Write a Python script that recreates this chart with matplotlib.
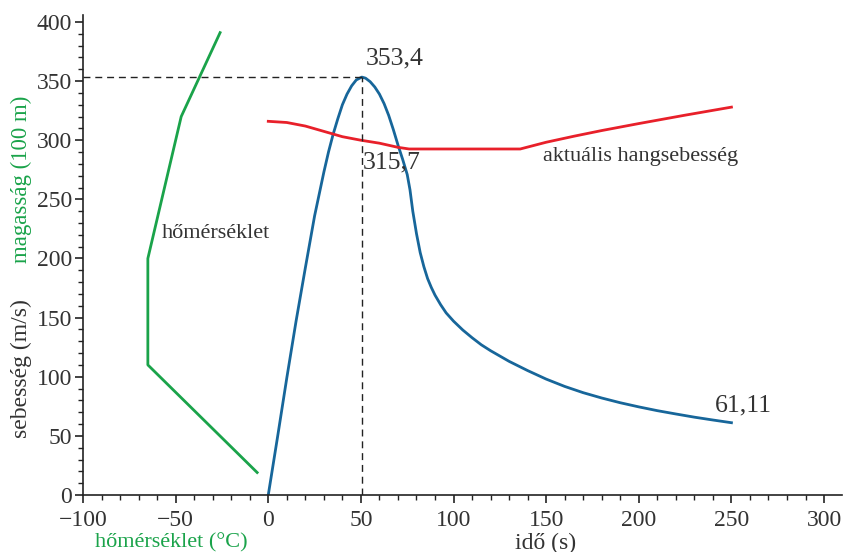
import matplotlib
matplotlib.use("Agg")
import matplotlib.pyplot as plt
from matplotlib.ticker import MultipleLocator

# hőmérséklet (°C) a magasság (100 m) függvényében
temp_c = [-6, -65, -65, -47, -26]
altitude = [19, 110, 200, 320, 391]

# sebesség (m/s) az idő (s) függvényében
t_speed = [0, 5, 10, 15, 20, 25, 30, 32.5, 35, 37.5, 40, 42.5, 45, 47.5,
           50.5, 52.5, 55, 57.5, 60, 62.5, 65, 67.5, 70, 72.5, 75, 76.5, 78,
           80, 82, 84, 86, 88, 90, 93, 96, 100, 105, 110, 115, 120, 130, 140,
           150, 160, 170, 180, 190, 200, 210, 220, 230, 240, 250]
speed = [0, 49, 99, 147, 192, 236, 273, 290, 305, 318, 330, 339, 346, 351,
         353.4, 352.5, 349.5, 345, 339, 331, 321, 309, 296, 284, 271, 258, 240,
         221, 205, 193, 183, 175.5, 169, 161, 154, 147, 139.5, 133, 127, 122,
         113, 105.2, 98, 91.8, 86.5, 82, 78, 74.5, 71.3, 68.5, 65.8, 63.4,
         61.11]

# aktuális hangsebesség
t_sound = [0, 10, 20, 30, 40, 50, 60, 70, 76, 136, 150, 165, 180, 200, 225,
           250]
sound = [316, 315, 312, 307.5, 303, 300, 297.5, 294, 292.6, 292.6, 298.3,
         303.4, 308.2, 314.1, 321.2, 328]

peak_t, peak_v = 50.5, 353.4

C_GREEN = "#1aa34a"
C_BLUE = "#17669a"
C_RED = "#e8202a"
C_TEXT = "#333333"

plt.rcParams["font.family"] = ["Liberation Serif", "DejaVu Serif"]

fig = plt.figure(figsize=(8.54, 5.52), dpi=100)
ax = fig.add_axes([0.0972, 0.1033, 0.8888, 0.8695])

ax.plot(temp_c, altitude, color=C_GREEN, lw=2)
ax.plot(t_speed, speed, color=C_BLUE, lw=2)
ax.plot(t_sound, sound, color=C_RED, lw=2)

# csúcs jelölése
ax.plot([-100, peak_t], [peak_v, peak_v], color="#222222", lw=1, ls=(0, (5, 3.5)))
ax.plot([peak_t, peak_t], [0, peak_v], color="#222222", lw=1, ls=(0, (5, 3.5)))

ax.text(52.5, 369, "353,4", fontsize=18.5, color=C_TEXT, va="center")
ax.text(51, 281, "315,7", fontsize=18.5, color=C_TEXT, va="center")
ax.text(241, 76, "61,11", fontsize=18.5, color=C_TEXT, va="center")
ax.text(148.5, 286, "aktuális hangsebesség", fontsize=16, color=C_TEXT, va="center")
ax.text(-57.5, 221, "hőmérséklet", fontsize=16, color=C_TEXT, va="center")

ax.set_xlim(-100, 309.7)
ax.set_ylim(0, 405.9)
ax.xaxis.set_major_locator(MultipleLocator(50))
ax.xaxis.set_minor_locator(MultipleLocator(10))
ax.yaxis.set_major_locator(MultipleLocator(50))
ax.yaxis.set_minor_locator(MultipleLocator(10))
ax.tick_params(which="major", length=6, width=1.2, labelsize=17,
               labelcolor=C_TEXT, color="#222222", pad=2)
ax.tick_params(axis="x", which="major", pad=5)
ax.tick_params(which="minor", length=3.5, width=1, color="#222222")
xt = list(range(-100, 301, 50))
ax.set_xticks(xt)
ax.set_xticklabels([str(v).replace("-", "\u2212") for v in xt])
for s in ("top", "right"):
    ax.spines[s].set_visible(False)
for s in ("left", "bottom"):
    ax.spines[s].set_linewidth(1.2)
    ax.spines[s].set_color("#222222")

fig.text(0.025, 0.675, "magasság (100 m)", rotation=90, color=C_GREEN,
         fontsize=16.5, ha="center", va="center")
fig.text(0.025, 0.332, "sebesség (m/s)", rotation=90, color=C_TEXT,
         fontsize=17, ha="center", va="center")
fig.text(0.201, 0.016, "hőmérséklet (°C)", color=C_GREEN, fontsize=16,
         ha="center", va="center")
fig.text(0.639, 0.016, "idő (s)", color=C_TEXT, fontsize=17,
         ha="center", va="center")

fig.savefig("out.png", dpi=100)
